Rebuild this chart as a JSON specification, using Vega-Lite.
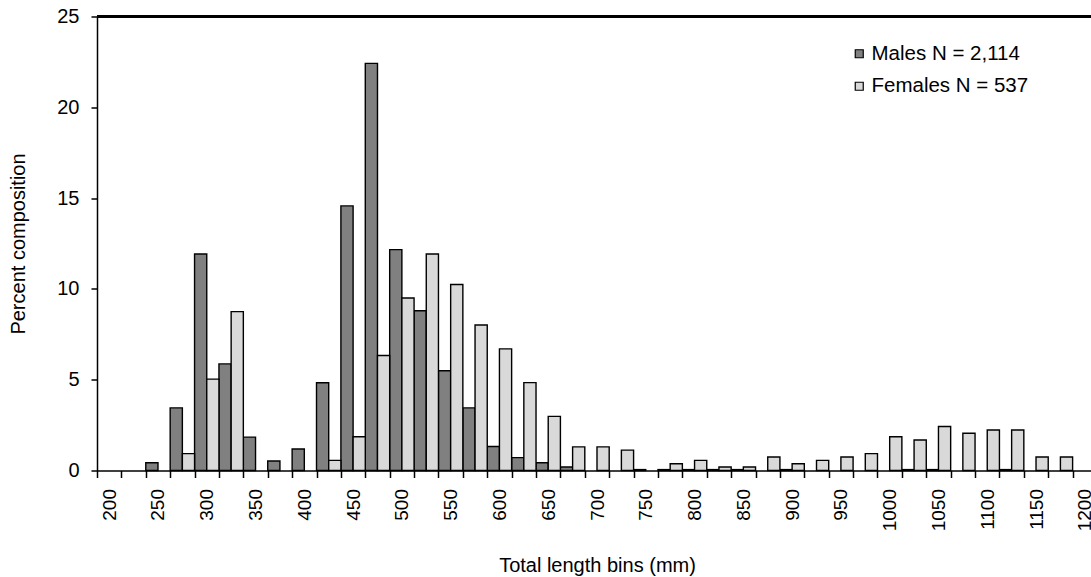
{
  "$schema": "https://vega.github.io/schema/vega-lite/v6.json",
  "width": 994,
  "height": 454,
  "autosize": {"type": "none"},
  "padding": {"left": 97, "top": 16.5, "right": 0, "bottom": 106.5},
  "background": "white",
  "config": {
    "view": {"stroke": null},
    "font": "Liberation Sans",
    "axis": {"labelFont": "Liberation Sans", "titleFont": "Liberation Sans", "labelColor": "black", "titleColor": "black", "titleFontWeight": "normal", "domainColor": "black", "tickColor": "black", "grid": false},
    "legend": {"labelFont": "Liberation Sans"}
  },
  "data": {"values": [
    {"len": 250, "group": "Males N = 2,114", "pct": 0.43},
    {"len": 275, "group": "Males N = 2,114", "pct": 3.45},
    {"len": 300, "group": "Males N = 2,114", "pct": 11.92},
    {"len": 325, "group": "Males N = 2,114", "pct": 5.87},
    {"len": 350, "group": "Males N = 2,114", "pct": 1.84},
    {"len": 375, "group": "Males N = 2,114", "pct": 0.52},
    {"len": 400, "group": "Males N = 2,114", "pct": 1.18},
    {"len": 425, "group": "Males N = 2,114", "pct": 4.83},
    {"len": 450, "group": "Males N = 2,114", "pct": 14.57},
    {"len": 475, "group": "Males N = 2,114", "pct": 22.42},
    {"len": 500, "group": "Males N = 2,114", "pct": 12.16},
    {"len": 525, "group": "Males N = 2,114", "pct": 8.80},
    {"len": 550, "group": "Males N = 2,114", "pct": 5.49},
    {"len": 575, "group": "Males N = 2,114", "pct": 3.45},
    {"len": 600, "group": "Males N = 2,114", "pct": 1.32},
    {"len": 625, "group": "Males N = 2,114", "pct": 0.71},
    {"len": 650, "group": "Males N = 2,114", "pct": 0.43},
    {"len": 675, "group": "Males N = 2,114", "pct": 0.19},
    {"len": 750, "group": "Males N = 2,114", "pct": 0.05},
    {"len": 775, "group": "Males N = 2,114", "pct": 0.05},
    {"len": 800, "group": "Males N = 2,114", "pct": 0.05},
    {"len": 825, "group": "Males N = 2,114", "pct": 0.05},
    {"len": 850, "group": "Males N = 2,114", "pct": 0.05},
    {"len": 900, "group": "Males N = 2,114", "pct": 0.05},
    {"len": 1025, "group": "Males N = 2,114", "pct": 0.05},
    {"len": 1050, "group": "Males N = 2,114", "pct": 0.05},
    {"len": 1125, "group": "Males N = 2,114", "pct": 0.05},
    {"len": 275, "group": "Females N = 537", "pct": 0.93},
    {"len": 300, "group": "Females N = 537", "pct": 5.03},
    {"len": 325, "group": "Females N = 537", "pct": 8.75},
    {"len": 425, "group": "Females N = 537", "pct": 0.56},
    {"len": 450, "group": "Females N = 537", "pct": 1.86},
    {"len": 475, "group": "Females N = 537", "pct": 6.33},
    {"len": 500, "group": "Females N = 537", "pct": 9.50},
    {"len": 525, "group": "Females N = 537", "pct": 11.92},
    {"len": 550, "group": "Females N = 537", "pct": 10.24},
    {"len": 575, "group": "Females N = 537", "pct": 8.01},
    {"len": 600, "group": "Females N = 537", "pct": 6.70},
    {"len": 625, "group": "Females N = 537", "pct": 4.84},
    {"len": 650, "group": "Females N = 537", "pct": 2.98},
    {"len": 675, "group": "Females N = 537", "pct": 1.30},
    {"len": 700, "group": "Females N = 537", "pct": 1.30},
    {"len": 725, "group": "Females N = 537", "pct": 1.12},
    {"len": 775, "group": "Females N = 537", "pct": 0.37},
    {"len": 800, "group": "Females N = 537", "pct": 0.56},
    {"len": 825, "group": "Females N = 537", "pct": 0.19},
    {"len": 850, "group": "Females N = 537", "pct": 0.19},
    {"len": 875, "group": "Females N = 537", "pct": 0.74},
    {"len": 900, "group": "Females N = 537", "pct": 0.37},
    {"len": 925, "group": "Females N = 537", "pct": 0.56},
    {"len": 950, "group": "Females N = 537", "pct": 0.74},
    {"len": 975, "group": "Females N = 537", "pct": 0.93},
    {"len": 1000, "group": "Females N = 537", "pct": 1.86},
    {"len": 1025, "group": "Females N = 537", "pct": 1.68},
    {"len": 1050, "group": "Females N = 537", "pct": 2.42},
    {"len": 1075, "group": "Females N = 537", "pct": 2.05},
    {"len": 1100, "group": "Females N = 537", "pct": 2.23},
    {"len": 1125, "group": "Females N = 537", "pct": 2.23},
    {"len": 1150, "group": "Females N = 537", "pct": 0.74},
    {"len": 1175, "group": "Females N = 537", "pct": 0.74}
  ]},
  "layer": [
    {
      "mark": {"type": "bar", "stroke": "black", "strokeWidth": 1.4},
      "encoding": {
        "x": {
          "field": "len", "type": "ordinal",
          "scale": {
            "domain": [200,225,250,275,300,325,350,375,400,425,450,475,500,525,550,575,600,625,650,675,700,725,750,775,800,825,850,875,900,925,950,975,1000,1025,1050,1075,1100,1125,1150,1175,1200],
            "range": [0, 1000],
            "paddingInner": 0, "paddingOuter": 0
          },
          "axis": {
            "title": "Total length bins (mm)",
            "titleFontSize": 20,
            "titlePadding": 25,
            "labelAngle": 270,
            "labelFontSize": 19,
            "labelPadding": 11,
            "tickSize": 7,
            "tickWidth": 1.5,
            "domainWidth": 1.5,
            "tickBand": "extent",
            "labelExpr": "datum.value % 50 == 0 ? datum.value : ''"
          }
        },
        "xOffset": {
          "field": "group", "type": "nominal",
          "sort": ["Males N = 2,114", "Females N = 537"],
          "scale": {"paddingInner": 0, "paddingOuter": 0}
        },
        "y": {
          "field": "pct", "type": "quantitative",
          "scale": {"domain": [0, 25], "nice": false},
          "axis": {
            "title": "Percent composition",
            "titleFontSize": 20,
            "titlePadding": 28,
            "values": [0, 5, 10, 15, 20, 25],
            "labelFontSize": 20,
            "labelPadding": 12,
            "tickSize": 6,
            "tickWidth": 1.5,
            "domainWidth": 1.5
          }
        },
        "color": {
          "field": "group", "type": "nominal",
          "sort": ["Males N = 2,114", "Females N = 537"],
          "scale": {"domain": ["Males N = 2,114", "Females N = 537"], "range": ["#808080", "#d9d9d9"]},
          "legend": {
            "title": null,
            "orient": "none",
            "legendX": 752,
            "legendY": 27,
            "padding": 0,
            "symbolType": "square",
            "symbolSize": 64,
            "symbolStrokeColor": "black",
            "symbolStrokeWidth": 1.2,
            "symbolOpacity": 1,
            "labelFontSize": 20.5,
            "labelColor": "black",
            "labelOffset": 2,
            "rowPadding": 11.5,
            "labelLimit": 300
          }
        }
      }
    },
    {
      "mark": {"type": "rule", "stroke": "black", "strokeWidth": 1.5},
      "encoding": {"y": {"datum": 25}}
    }
  ]
}
